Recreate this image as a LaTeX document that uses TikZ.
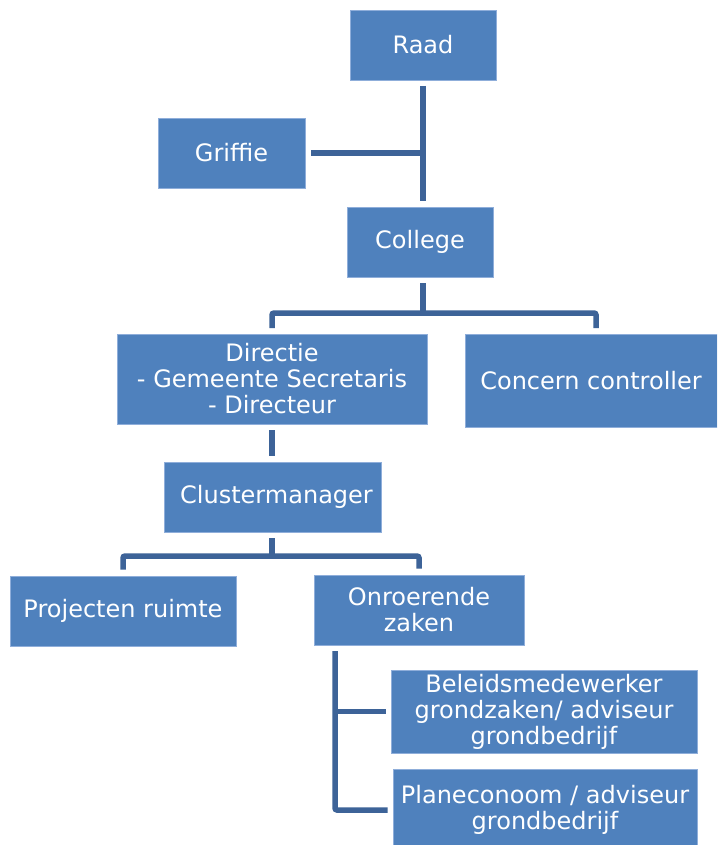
\documentclass[tikz,border=0pt]{standalone}
\usepackage{fontspec}
\setmainfont{DejaVu Sans}
\definecolor{boxblue}{HTML}{4F81BD}
\definecolor{linkblue}{HTML}{3D6398}
\definecolor{edgeblue}{HTML}{8FAEDA}
\begin{document}
\begin{tikzpicture}[x=1pt,y=-1pt,
  orgbox/.style={rectangle, fill=boxblue, draw=edgeblue, line width=0.8pt, text=white,
    inner sep=0pt, align=center, font=\fontsize{24}{26}\selectfont},
  conn/.style={draw=linkblue, line width=5.5pt, rounded corners=2pt}]
\clip (0,0) rectangle (717,845);
\fill[white] (0,0) rectangle (717,845);

\node[orgbox, minimum width=146pt, minimum height=70pt] (raad) at (423,45) {Raad};
\node[orgbox, minimum width=147pt, minimum height=70pt] (griffie) at (231.5,153) {Griffie};
\node[orgbox, minimum width=146pt, minimum height=70pt] (college) at (420,242) {College};
\node[orgbox, minimum width=310pt, minimum height=90pt] (directie) at (272,379) {Directie\\- Gemeente Secretaris\\- Directeur};
\node[orgbox, minimum width=252pt, minimum height=93pt] (concern) at (591,380.5) {Concern controller};
\node[orgbox, minimum width=217pt, minimum height=70pt] (cluster) at (272.5,497) {\hspace*{8pt}Clustermanager};
\node[orgbox, minimum width=226pt, minimum height=70pt] (projecten) at (123,611) {Projecten ruimte};
\node[orgbox, minimum width=210pt, minimum height=70pt] (onroerend) at (419,610) {Onroerende\\zaken};
\node[orgbox, minimum width=306pt, minimum height=83pt] (beleid) at (544,711.5) {Beleidsmedewerker\\grondzaken/ adviseur\\grondbedrijf};
\node[orgbox, minimum width=304pt, minimum height=82pt] (plan) at (545,810) {Planeconoom / adviseur\\grondbedrijf};

% Raad - College with Griffie
\coordinate (r1) at (423,86);
\coordinate (r2) at (423,201);
\draw[conn] (r1) -- (r2);
\draw[conn] ([xshift=6pt]griffie.east) -- (griffie.east -| r1);

% College fork
\coordinate (c0) at (423,283);
\coordinate (c1) at (423,313);
\coordinate (cl) at (272,328);
\coordinate (cr) at (596,328);
\draw[conn] (c0) -- (c1);
\draw[conn] (cl) |- (c1) -| (cr);

% Directie - Clustermanager
\draw[conn] ([yshift=-6pt]directie.south) -- ([yshift=6pt]cluster.north -| directie.south);

% Clustermanager fork
\coordinate (k0) at (272,538);
\coordinate (k1) at (272,556);
\draw[conn] (k0) -- (k1);
\draw[conn] ([yshift=6pt]projecten.north) |- (k1) -| ([yshift=6pt]onroerend.north);

% Onroerende zaken side branch
\coordinate (o1) at (335,651);
\draw[conn] (o1) |- ([xshift=-5pt]plan.west);
\draw[conn] (o1 |- beleid.west) -- ([xshift=-5pt]beleid.west);
\end{tikzpicture}
\end{document}
